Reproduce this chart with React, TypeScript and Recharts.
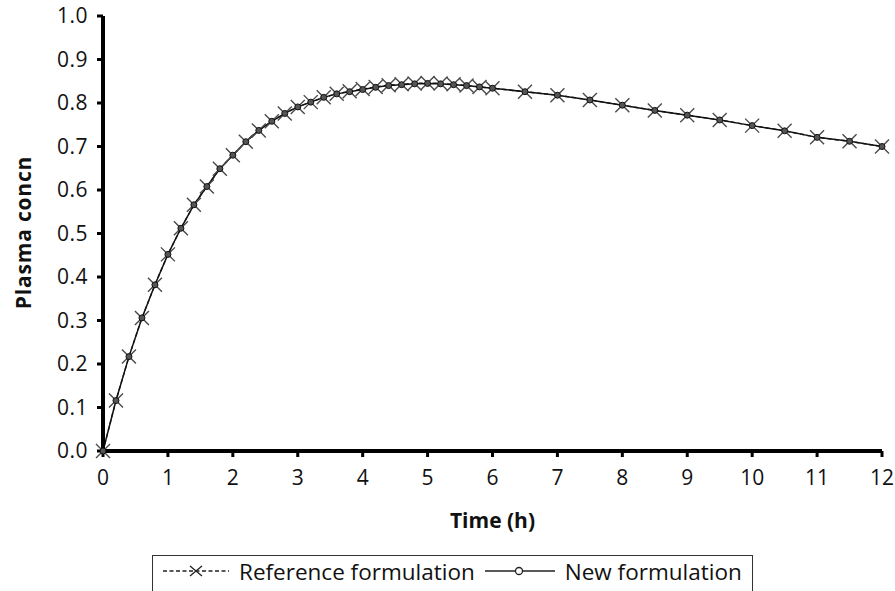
import React from 'react';
import { LineChart, Line, XAxis, YAxis, Legend } from 'recharts';

const times = [
  0, 0.2, 0.4, 0.6, 0.8, 1.0, 1.2, 1.4, 1.6, 1.8, 2.0, 2.2, 2.4, 2.6, 2.8, 3.0,
  3.2, 3.4, 3.6, 3.8, 4.0, 4.2, 4.4, 4.6, 4.8, 5.0, 5.2, 5.4, 5.6, 5.8, 6.0,
  6.5, 7.0, 7.5, 8.0, 8.5, 9.0, 9.5, 10.0, 10.5, 11.0, 11.5, 12.0,
];

const referenceFormulation = [
  0, 0.116, 0.217, 0.306, 0.382, 0.452, 0.512, 0.566, 0.608, 0.649, 0.680, 0.711,
  0.737, 0.758, 0.776, 0.791, 0.802, 0.813, 0.821, 0.827, 0.832, 0.837, 0.841,
  0.843, 0.845, 0.846, 0.845, 0.843, 0.840, 0.837, 0.834,
  0.826, 0.818, 0.807, 0.795, 0.783, 0.772, 0.761, 0.748, 0.736, 0.721, 0.712, 0.700,
];

const newFormulation = [
  0, 0.116, 0.217, 0.306, 0.382, 0.452, 0.512, 0.566, 0.608, 0.649, 0.680, 0.711,
  0.737, 0.758, 0.776, 0.791, 0.802, 0.813, 0.821, 0.826, 0.831, 0.836, 0.840,
  0.842, 0.844, 0.845, 0.844, 0.842, 0.840, 0.837, 0.834,
  0.826, 0.818, 0.807, 0.795, 0.783, 0.772, 0.761, 0.748, 0.736, 0.721, 0.712, 0.700,
];

const xTicks = [0, 1, 2, 3, 4, 5, 6, 7, 8, 9, 10, 11, 12];
const yTicks = [0, 0.1, 0.2, 0.3, 0.4, 0.5, 0.6, 0.7, 0.8, 0.9, 1.0];

const seriesNames = ['Reference formulation', 'New formulation'];

const data = times.map((t, i) => ({
  t,
  ref: referenceFormulation[i],
  nw: newFormulation[i],
}));

const FONT = '"Open Sans", "DejaVu Sans", sans-serif';

const XDot = (props: any) => {
  const { cx, cy, index } = props;
  if (cx == null || cy == null) return <g key={`x-${index}`} />;
  const a = 7;
  return (
    <path
      key={`x-${index}`}
      d={`M${cx - a},${cy - a}L${cx + a},${cy + a}M${cx - a},${cy + a}L${cx + a},${cy - a}`}
      stroke="#4a4a4a"
      strokeWidth={1.4}
      fill="none"
    />
  );
};

const ODot = (props: any) => {
  const { cx, cy, index } = props;
  if (cx == null || cy == null) return <g key={`o-${index}`} />;
  return <circle key={`o-${index}`} cx={cx} cy={cy} r={3} fill="#555" stroke="#111" strokeWidth={1} />;
};

const LegendBox = () => (
  <div
    style={{
      boxSizing: 'border-box',
      width: 601,
      height: 42,
      border: '1.5px solid #333',
      fontFamily: FONT,
      fontSize: 22.5,
      color: '#111',
      display: 'flex',
      alignItems: 'flex-start',
    }}
  >
    <div style={{ display: 'flex', alignItems: 'center', height: 30, whiteSpace: 'nowrap' }}>
      <svg width={66} height={20} style={{ marginLeft: 10, marginRight: 10 }}>
        <line x1={0} y1={10} x2={66} y2={10} stroke="#222" strokeWidth={1.3} strokeDasharray="4 2.5" />
        <path d="M27,5L39,15M27,15L39,5" stroke="#222" strokeWidth={1.3} />
      </svg>
      <span>{seriesNames[0]}</span>
      <svg width={70} height={20} style={{ marginLeft: 10, marginRight: 10 }}>
        <line x1={0} y1={10} x2={70} y2={10} stroke="#222" strokeWidth={1.3} />
        <circle cx={34} cy={10} r={3.5} fill="#fff" stroke="#222" strokeWidth={1.3} />
      </svg>
      <span>{seriesNames[1]}</span>
    </div>
  </div>
);

const YLabel = (props: any) => {
  const vb = props.viewBox || { x: 0, y: 16, width: 103, height: 435 };
  const x = vb.x + 23;
  const y = vb.y + vb.height / 2 - 1;
  return (
    <text
      x={x}
      y={y}
      transform={`rotate(-90, ${x}, ${y})`}
      textAnchor="middle"
      dominantBaseline="central"
      fontFamily={FONT}
      fontWeight="bold"
      fontSize={21}
      letterSpacing={0.8}
      fill="#111"
    >
      Plasma concn
    </text>
  );
};

export default function App() {
  return (
    <div style={{ position: 'absolute', left: 0, top: 0, background: '#fff' }}>
      <LineChart
        width={895}
        height={591}
        data={data}
        margin={{ top: 16, right: 13, left: 0, bottom: 55 }}
        style={{ fontFamily: FONT }}
      >
        <XAxis
          dataKey="t"
          type="number"
          domain={[0, 12]}
          ticks={xTicks}
          height={85}
          axisLine={{ stroke: '#000', strokeWidth: 4 }}
          tickLine={{ stroke: '#000', strokeWidth: 3 }}
          tickSize={6}
          tickMargin={13}
          tick={{ fill: '#111', fontSize: 21, fontFamily: FONT }}
          label={{
            value: 'Time (h)',
            position: 'insideBottom',
            offset: 8,
            style: { fontFamily: FONT, fontWeight: 'bold', fontSize: 21, fill: '#111' },
          }}
        />
        <YAxis
          type="number"
          domain={[0, 1]}
          ticks={yTicks}
          width={103}
          axisLine={{ stroke: '#000', strokeWidth: 4 }}
          tickLine={{ stroke: '#000', strokeWidth: 3 }}
          tickSize={6}
          tickMargin={9}
          tickFormatter={(v: number) => v.toFixed(1)}
          tick={{ fill: '#111', fontSize: 21, fontFamily: FONT, letterSpacing: 0.5 }}
          label={{ content: YLabel }}
        />
        <Legend
          verticalAlign="middle"
          align="center"
          layout="horizontal"
          wrapperStyle={{ left: 152, top: 555, width: 601, bottom: 'auto' }}
          content={LegendBox}
        />
        <Line
          type="linear"
          dataKey="ref"
          name={seriesNames[0]}
          stroke="#222"
          strokeWidth={1.4}
          strokeDasharray="4 3"
          dot={XDot}
          activeDot={false}
          isAnimationActive={false}
        />
        <Line
          type="linear"
          dataKey="nw"
          name={seriesNames[1]}
          stroke="#111"
          strokeWidth={1.5}
          dot={ODot}
          activeDot={false}
          isAnimationActive={false}
        />
      </LineChart>
    </div>
  );
}
